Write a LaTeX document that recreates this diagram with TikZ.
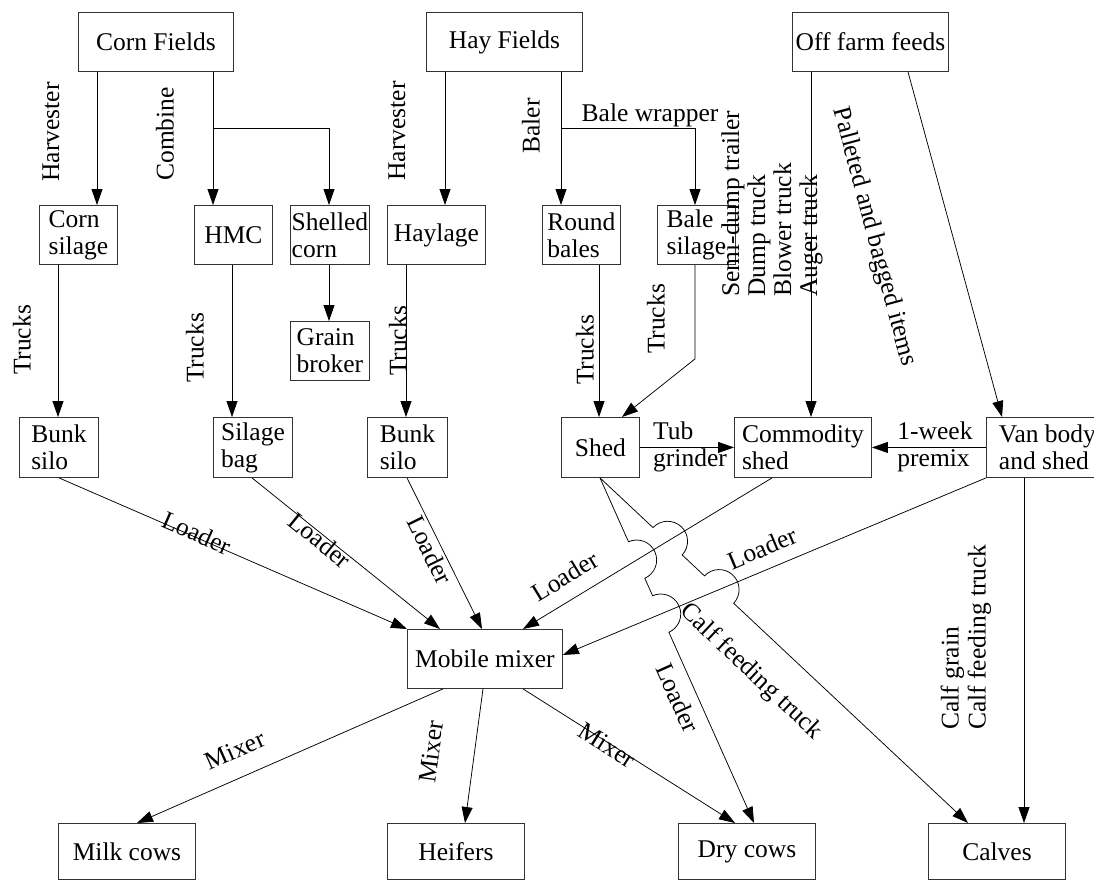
\documentclass[tikz,border=0pt]{standalone}
\usepackage{fontspec}
\setmainfont{Liberation Serif}
\usetikzlibrary{arrows.meta,calc,intersections}
\newcommand\dgfont{\fontsize{25.5}{27}\selectfont}
\newcommand\dgfonttight{\fontsize{25.5}{26}\selectfont}
\begin{document}
\begin{tikzpicture}[x=1pt,y=-1pt,
  box/.style={draw=black!80, line width=0.9pt, inner sep=0pt, font=\dgfont, align=left, anchor=north west},
  conn/.style={draw=black, line width=0.75pt, -{Triangle[length=16pt,width=11pt]}},
  lbl/.style={font=\dgfont, inner sep=0pt}]
\useasboundingbox (0,0) rectangle (1094,880);

% boxes
\node[box, minimum width=155pt, minimum height=59pt] (cornF) at (78,12) {Corn Fields};
\node[box, minimum width=156pt, minimum height=59pt] (hayF) at (426,12) {Hay Fields};
\node[box, minimum width=156pt, minimum height=59pt] (offF) at (792,12) {Off farm feeds};
\node[box, minimum width=78pt, minimum height=59pt] (cornS) at (39,205) {Corn\\silage};
\node[box, minimum width=78pt, minimum height=59pt] (hmc) at (194,205) {HMC};
\node[box, minimum width=79pt, minimum height=59pt] (shelled) at (290,205) {Shelled\\corn};
\node[box, minimum width=98pt, minimum height=59pt] (haylage) at (387,205) {Haylage};
\node[box, minimum width=78pt, minimum height=59pt] (round) at (542,205) {Round\\bales};
\node[box, minimum width=78pt, minimum height=59pt] (balesil) at (657,205) {Bale\\silage};
\node[box, minimum width=79pt, minimum height=59pt] (grain) at (290,321) {Grain\\broker};
\node[box, minimum width=79pt, minimum height=60pt] (bunk1) at (19,417) {Bunk\\silo};
\node[box, minimum width=79pt, minimum height=60pt] (bag) at (213,417) {Silage\\bag};
\node[box, minimum width=80pt, minimum height=60pt] (bunk2) at (367,417) {Bunk\\silo};
\node[box, minimum width=78pt, minimum height=60pt] (shed) at (561,417) {Shed};
\node[box, minimum width=137pt, minimum height=60pt] (comm) at (734,417) {Commodity\\shed};
\node[box, minimum width=122pt, minimum height=60pt] (van) at (986,417) {Van body\\and shed};
\node[box, minimum width=155pt, minimum height=59pt] (mixer) at (407,629) {Mobile mixer};
\node[box, minimum width=137pt, minimum height=56pt] (milk) at (58,823) {Milk cows};
\node[box, minimum width=137pt, minimum height=56pt] (heifers) at (387,823) {Heifers};
\node[box, minimum width=137pt, minimum height=56pt] (dry) at (678,823) {Dry cows};
\node[box, minimum width=137pt, minimum height=56pt] (calves) at (928,823) {Calves};

% connectors
\draw[conn] ([xshift=19pt]cornF.south west) -- ([xshift=58pt]cornS.north west);
\draw[conn] ([xshift=135pt]cornF.south west) -- ([xshift=19pt]hmc.north west);
\coordinate (cbr) at ([xshift=135pt,yshift=-56pt]cornF.south west);
\draw[conn] (cbr) -| ([xshift=39pt]shelled.north west);
\draw[conn] ([xshift=39pt]shelled.south west) -- ([xshift=39pt]grain.north west);
\draw[conn] ([xshift=19pt]hayF.south west) -- ([xshift=58pt]haylage.north west);
\draw[conn] ([xshift=135pt]hayF.south west) -- ([xshift=19pt]round.north west);
\coordinate (hbr) at ([xshift=135pt,yshift=-56pt]hayF.south west);
\draw[conn] (hbr) -| ([xshift=38pt]balesil.north west);
\draw[conn] ([xshift=19pt]offF.south west) -- ([xshift=77pt]comm.north west);
\draw[conn] ([xshift=116pt]offF.south west) -- ([xshift=16pt]van.north west);
\draw[conn] ([xshift=19pt]cornS.south west) -- ([xshift=39pt]bunk1.north west);
\draw[conn] ([xshift=38pt]hmc.south west) -- ([xshift=19pt]bag.north west);
\draw[conn] ([xshift=19pt]haylage.south west) -- ([xshift=39pt]bunk2.north west);
\draw[conn] ([xshift=57pt]round.south west) -- ([xshift=38pt]shed.north west);
\draw[conn] ([xshift=38pt]balesil.south west) -- ++(0,94) -- ([xshift=61pt]shed.north west);
\draw[conn] (shed.east) -- (comm.west);
\draw[conn] (van.west) -- (comm.east);
\draw[conn] ([xshift=40pt]bunk1.south west) -- (mixer.north west);
\draw[conn] ([xshift=39pt]bag.south west) -- ([xshift=33pt]mixer.north west);
\draw[conn] ([xshift=40pt]bunk2.south west) -- ([xshift=75pt]mixer.north west);
\draw[conn, name path=cm] ([xshift=38pt]comm.south west) -- ([xshift=116pt]mixer.north west);
\draw[conn, name path=vm] (van.south west) -- ([yshift=4pt]mixer.east);
\draw[conn] ([xshift=36pt]mixer.south west) -- ([xshift=79pt]milk.north west);
\draw[conn] ([xshift=76pt]mixer.south west) -- ([xshift=78pt]heifers.north west);
\draw[conn] ([xshift=116pt]mixer.south west) -- ([xshift=57pt]dry.north west);
\draw[conn] ([xshift=38pt]van.south west) -- ([xshift=96pt]calves.north west);

% lines from the shed with hops
\coordinate (sdA) at ([xshift=39pt]shed.south west);
\coordinate (sdB) at ([xshift=76pt]dry.north west);
\coordinate (scB) at ([xshift=40pt]calves.north west);
\path[name path=sd] (sdA) -- (sdB);
\path[name path=sc] (sdA) -- (scB);
\path[name intersections={of=sd and cm, by=h1}];
\path[name intersections={of=sd and vm, by=h2}];
\path[name intersections={of=sc and cm, by=h3}];
\path[name intersections={of=sc and vm, by=h4}];
\coordinate (h1s) at ($(h1)!20pt!(sdA)$);
\coordinate (h1e) at ($(h1)!20pt!(sdB)$);
\coordinate (h1p) at ($(h1)!20pt!90:(sdB)$);
\coordinate (h2s) at ($(h2)!20pt!(sdA)$);
\coordinate (h2e) at ($(h2)!20pt!(sdB)$);
\coordinate (h2p) at ($(h2)!20pt!90:(sdB)$);
\coordinate (h3s) at ($(h3)!20pt!(sdA)$);
\coordinate (h3e) at ($(h3)!20pt!(scB)$);
\coordinate (h3p) at ($(h3)!20pt!90:(scB)$);
\coordinate (h4s) at ($(h4)!20pt!(sdA)$);
\coordinate (h4e) at ($(h4)!20pt!(scB)$);
\coordinate (h4p) at ($(h4)!20pt!90:(scB)$);
\draw[conn] (sdA) -- (h1s)
  .. controls ($(h1s)+0.5523*(h1p)-0.5523*(h1)$) and ($(h1p)+0.5523*(h1s)-0.5523*(h1)$) .. (h1p)
  .. controls ($(h1p)+0.5523*(h1e)-0.5523*(h1)$) and ($(h1e)+0.5523*(h1p)-0.5523*(h1)$) .. (h1e)
  -- (h2s)
  .. controls ($(h2s)+0.5523*(h2p)-0.5523*(h2)$) and ($(h2p)+0.5523*(h2s)-0.5523*(h2)$) .. (h2p)
  .. controls ($(h2p)+0.5523*(h2e)-0.5523*(h2)$) and ($(h2e)+0.5523*(h2p)-0.5523*(h2)$) .. (h2e)
  -- (sdB);
\draw[conn] (sdA) -- (h3s)
  .. controls ($(h3s)+0.5523*(h3p)-0.5523*(h3)$) and ($(h3p)+0.5523*(h3s)-0.5523*(h3)$) .. (h3p)
  .. controls ($(h3p)+0.5523*(h3e)-0.5523*(h3)$) and ($(h3e)+0.5523*(h3p)-0.5523*(h3)$) .. (h3e)
  -- (h4s)
  .. controls ($(h4s)+0.5523*(h4p)-0.5523*(h4)$) and ($(h4p)+0.5523*(h4s)-0.5523*(h4)$) .. (h4p)
  .. controls ($(h4p)+0.5523*(h4e)-0.5523*(h4)$) and ($(h4e)+0.5523*(h4p)-0.5523*(h4)$) .. (h4e)
  -- (scB);

% labels
\node[lbl, rotate=90] (lHv1) at (51,132) {Harvester};
\node[lbl, rotate=90] (lCb) at (165,134) {Combine};
\node[lbl, rotate=90] (lHv2) at (397,131) {Harvester};
\node[lbl, rotate=90] (lBl) at (531,126) {Baler};
\node[lbl] (lBw) at (650,115) {Bale wrapper};
\node[lbl, rotate=90, anchor=west, align=left, font=\dgfonttight] (lTr) at (772,297) {Semi-dump trailer\\Dump truck\\Blower truck\\Auger truck};
\node[lbl, rotate=-75] (lPb) at (874,237) {Palleted and bagged items};
\node[lbl, rotate=90] (lT1) at (22,340) {Trucks};
\node[lbl, rotate=90] (lT2) at (195,348) {Trucks};
\node[lbl, rotate=90] (lT3) at (398,341) {Trucks};
\node[lbl, rotate=90] (lT4) at (585,350) {Trucks};
\node[lbl, rotate=90] (lT5) at (656,319) {Trucks};
\node[lbl, align=left] (lTg) at (690,447) {Tub\\grinder};
\node[lbl, align=left] (lPm) at (935,447) {1-week\\premix};
\node[lbl, rotate=-23.8] (lL1) at (197,533) {Loader};
\node[lbl, rotate=-39] (lL2) at (320,540) {Loader};
\node[lbl, rotate=-63.7] (lL3) at (430,550) {Loader};
\node[lbl, rotate=31.4] (lL4) at (565,576) {Loader};
\node[lbl, rotate=22.8] (lL5) at (762,548) {Loader};
\node[lbl, rotate=-66] (lL6) at (678,698) {Loader};
\node[lbl, rotate=-43.3] (lCf) at (751,672) {Calf feeding truck};
\node[lbl, rotate=90, anchor=west, align=left] (lCg) at (966,730) {Calf grain\\Calf feeding truck};
\node[lbl, rotate=23.8] (lM1) at (235,750) {Mixer};
\node[lbl, rotate=82.4] (lM2) at (431,752) {Mixer};
\node[lbl, rotate=-32.5] (lM3) at (607,745) {Mixer};
\end{tikzpicture}
\end{document}
